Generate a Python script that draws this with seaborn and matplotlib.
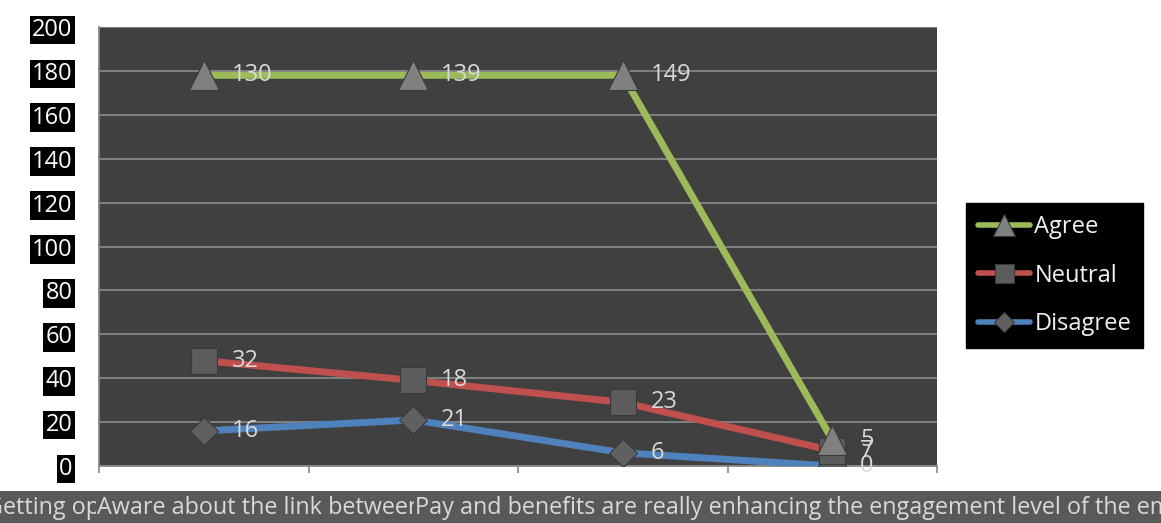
import numpy as np
import pandas as pd
import matplotlib
matplotlib.use("Agg")
import matplotlib.pyplot as plt
import seaborn as sns
from matplotlib.patches import Rectangle
from matplotlib.transforms import Bbox, TransformedBbox
from matplotlib.lines import Line2D

# ---------------- data ----------------
categories = [
    "Getting opportunities for career growth",
    "Aware about the link between performance and rewards",
    "Pay and benefits are really enhancing the engagement level of the employees",
    "Overall engagement",
]
disagree = [16, 21, 6, 0]
neutral = [32, 18, 23, 7]
agree = [130, 139, 149, 5]
series_names = ["Agree", "Neutral", "Disagree"]
y_ticks = [0, 20, 40, 60, 80, 100, 120, 140, 160, 180, 200]

# stacked line chart: cumulative positions
cum_dis = np.array(disagree)
cum_neu = cum_dis + np.array(neutral)
cum_agr = cum_neu + np.array(agree)

rows = []
for name, raw, cum in [("Disagree", disagree, cum_dis),
                       ("Neutral", neutral, cum_neu),
                       ("Agree", agree, cum_agr)]:
    for c, r, v in zip(categories, raw, cum):
        rows.append({"category": c, "series": name, "raw": r, "value": v})
df = pd.DataFrame(rows)

# ---------------- style ----------------
sns.set_theme(style="white")
plt.rcParams["font.family"] = ["Open Sans", "DejaVu Sans"]

W, H = 1161, 523
fig = plt.figure(figsize=(W / 100, H / 100), dpi=100)
fig.patch.set_facecolor("white")
ax = fig.add_axes([99 / W, 57 / H, 838 / W, 439 / H])
ax.set_facecolor("#404040")

colors = {"Agree": "#9bbb59", "Neutral": "#c0504d", "Disagree": "#4f81bd"}
markers = {"Agree": "^", "Neutral": "s", "Disagree": "D"}
msizes = {"Agree": 22, "Neutral": 19, "Disagree": 14}
mface = {"Agree": "#808080", "Neutral": "#5c5c5c", "Disagree": "#606060"}

for name in ["Disagree", "Neutral", "Agree"]:
    sub = df[df["series"] == name]
    sns.lineplot(data=sub, x="category", y="value", ax=ax, color=colors[name],
                 lw=5, marker=markers[name], ms=msizes[name],
                 markerfacecolor=mface[name], markeredgecolor="#3a3a3a",
                 markeredgewidth=0.8, legend=False, zorder=3,
                 solid_capstyle="round")

# data labels (raw values at stacked positions)
for _, r in df.iterrows():
    xi = categories.index(r["category"])
    ax.annotate(str(r["raw"]), (xi, r["value"]), xytext=(20, 0),
                textcoords="offset points", va="center", ha="left",
                color="#d9d9d9", fontsize=17, zorder=5)

# axes
ax.set_xlim(-0.5, len(categories) - 0.5)
ax.set_ylim(0, 200)
ax.set_yticks(y_ticks)
ax.set_xticks(np.arange(-0.5, len(categories), 1.0))
ax.set_xticklabels([])
ax.set_xlabel("")
ax.set_ylabel("")
ax.grid(axis="y", color="#868686", lw=1.3)
ax.grid(axis="x", visible=False)
for s in ["top", "right"]:
    ax.spines[s].set_visible(False)
for s in ["left", "bottom"]:
    ax.spines[s].set_color("#868686")
    ax.spines[s].set_linewidth(1.3)
ax.tick_params(axis="y", direction="out", length=6, width=1.2, color="#868686",
               pad=13, labelsize=17, labelcolor="white")
ax.tick_params(axis="x", direction="out", length=5, width=1.2, color="#868686",
               bottom=True)
for lbl in ax.get_yticklabels():
    lbl.set_bbox(dict(facecolor="black", edgecolor="none", boxstyle="square,pad=0.1"))

# x label band
fig.add_artist(Rectangle((0, 0), 1, 32 / H, transform=fig.transFigure,
                         facecolor="#595959", edgecolor="none", zorder=0))
label_spans = [(-14, 0, 96), (97, 97, 414), (415, 415, W)]
for (x0, c0, c1), text in zip(label_spans, categories[:3]):
    t = fig.text(x0 / W, 15 / H, text, ha="left", va="center",
                 color="#d9d9d9", fontsize=16.8)
    t.set_clip_box(TransformedBbox(Bbox.from_extents(c0 / W, 0, c1 / W, 32 / H),
                                   fig.transFigure))
    t.set_clip_on(True)

# legend
handles = [Line2D([], [], color=colors[n], lw=4, marker=markers[n],
                  ms=msizes[n] * 0.72, markerfacecolor=mface[n],
                  markeredgecolor="#3a3a3a", markeredgewidth=0.8)
           for n in series_names]
leg = fig.legend(handles, series_names, loc="upper left",
                 bbox_to_anchor=(966 / W, (H - 203) / H), frameon=True,
                 fontsize=17, handlelength=2.2, handletextpad=0.2,
                 labelspacing=1.05, borderpad=0.5, borderaxespad=0,
                 fancybox=False)
leg.get_frame().set_facecolor("black")
leg.get_frame().set_edgecolor("black")
leg.get_frame().set_alpha(1)
for t in leg.get_texts():
    t.set_color("#f2f2f2")

fig.savefig("out.png", dpi=100)
